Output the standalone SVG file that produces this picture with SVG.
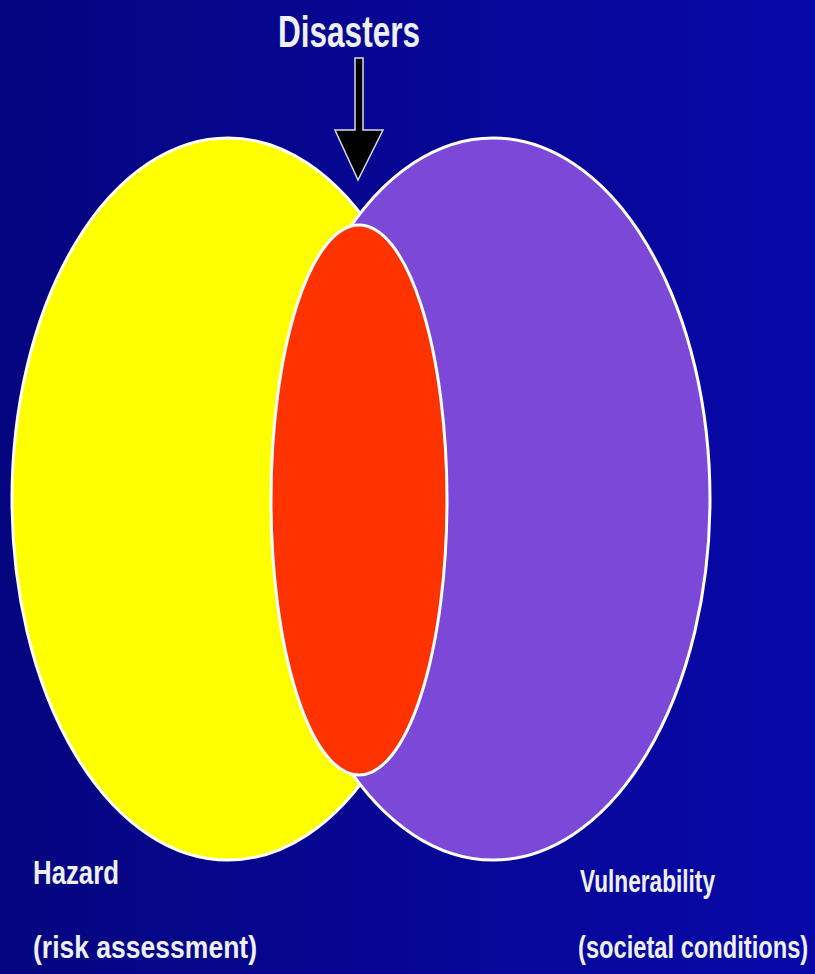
<svg xmlns="http://www.w3.org/2000/svg" width="815" height="974" viewBox="0 0 815 974">
  <defs>
    <linearGradient id="bg" x1="0" y1="0" x2="1" y2="0">
      <stop offset="0" stop-color="#050580"/>
      <stop offset="1" stop-color="#0808a8"/>
    </linearGradient>
    <style>
      .set { stroke: #ffffff; stroke-width: 3; }
      .lbl { font-family: "Liberation Sans Narrow", "Arial Narrow", "Liberation Sans", sans-serif; font-weight: bold; fill: #eef0ff; }
    </style>
  </defs>
  <rect width="815" height="974" fill="url(#bg)"/>

  <g id="hazard">
    <ellipse class="set" cx="228" cy="499" rx="216" ry="361" fill="#ffff00"/>
  </g>
  <g id="vulnerability">
    <ellipse class="set" cx="493" cy="499" rx="217" ry="361" fill="#7b48d8"/>
  </g>
  <g id="disasters-overlap">
    <ellipse class="set" cx="359" cy="500" rx="88" ry="275" fill="#ff3300"/>
  </g>

  <g id="disasters-label">
    <text class="lbl" x="278" y="47" font-size="44" textLength="142" lengthAdjust="spacingAndGlyphs">Disasters</text>
  </g>

  <g id="connectors">
    <path d="M355,58 L363,58 L363,130 L383,130 L358,180 L335,130 L355,130 Z" fill="#000000" stroke="#d8d8e8" stroke-width="1.5"/>
  </g>

  <g id="hazard-label">
    <text class="lbl" x="33" y="884" font-size="34" textLength="86" lengthAdjust="spacingAndGlyphs">Hazard</text>
    <text class="lbl" x="33" y="958" font-size="32" textLength="224" lengthAdjust="spacingAndGlyphs">(risk assessment)</text>
  </g>
  <g id="vulnerability-label">
    <text class="lbl" x="580" y="892" font-size="32" textLength="135" lengthAdjust="spacingAndGlyphs">Vulnerability</text>
    <g transform="translate(578,958) scale(0.745,1)">
      <text class="lbl" x="0" y="0" font-size="32" textLength="309" lengthAdjust="spacingAndGlyphs">(societal conditions)</text>
    </g>
  </g>
</svg>
